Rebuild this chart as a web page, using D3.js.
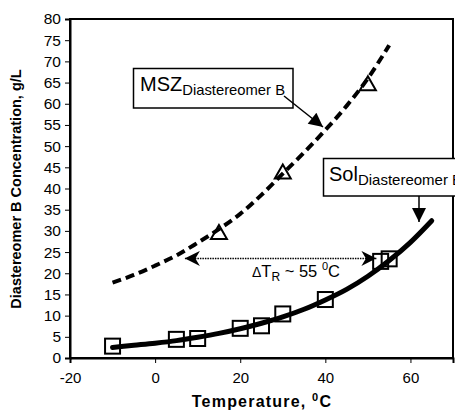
<!DOCTYPE html>
<html><head><meta charset="utf-8">
<script src="https://cdn.jsdelivr.net/npm/d3@7"></script>
<style>
body{margin:0;background:#fff;}
text{font-family:"Liberation Sans",Arial,sans-serif;}
</style></head>
<body>
<svg id="chart" width="455" height="410"></svg>
<script>
// Measured solubility (squares)
const solTemp = [-10, 5, 10, 20, 25, 30, 40, 53, 55];
const solConc = [2.8, 4.4, 4.6, 7.0, 7.6, 10.4, 13.8, 22.8, 23.4];
// Solubility fitted curve
const solCurveTemp = [-10, -5, 0, 5, 10, 15, 20, 25, 30, 35, 40, 45, 50, 55, 60, 65];
const solCurveConc = [2.5, 3.0, 3.5, 4.1, 4.9, 5.8, 6.9, 8.2, 9.7, 11.5, 13.7, 16.2, 19.3, 23.0, 27.3, 32.4];
// Metastable zone limit (triangles)
const mszTemp = [15, 30, 50];
const mszConc = [29.5, 43.8, 64.6];
// MSZ dashed curve
const mszCurveTemp = [-10, -5, 0, 5, 10, 15, 20, 25, 30, 35, 40, 45, 50, 55];
const mszCurveConc = [17.8, 19.6, 21.8, 24.2, 27.2, 30.4, 34.0, 38.5, 43.5, 48.5, 53.8, 59.5, 66.0, 73.8];
// Axis ticks
const xTicks = [-20, 0, 20, 40, 60];
const yTicks = [0, 5, 10, 15, 20, 25, 30, 35, 40, 45, 50, 55, 60, 65, 70, 75, 80];
// Annotation values
const deltaArrowConc = 23.5;
const deltaArrowFrom = 7;
const deltaArrowTo = 52;

const svg = d3.select("#chart");
const x = d3.scaleLinear().domain([-20, 70]).range([70, 453]);
const y = d3.scaleLinear().domain([0, 80]).range([358, 19]);

const defs = svg.append("defs");
defs.append("marker").attr("id","tri").attr("viewBox","0 0 10 10").attr("refX",10).attr("refY",5)
  .attr("markerWidth",18).attr("markerHeight",14).attr("markerUnits","userSpaceOnUse").attr("orient","auto")
  .append("path").attr("d","M0,0L10,5L0,10Z").attr("fill","#000");
defs.append("marker").attr("id","stealth").attr("viewBox","0 0 10 10").attr("refX",10).attr("refY",5)
  .attr("markerWidth",15).attr("markerHeight",15).attr("markerUnits","userSpaceOnUse").attr("orient","auto-start-reverse")
  .append("path").attr("d","M0,0L10,5L0,10L3,5Z").attr("fill","#000");

// Plot frame
svg.append("rect").attr("x",70).attr("y",19).attr("width",383).attr("height",339)
  .attr("fill","none").attr("stroke","#000").attr("stroke-width",2);

// Axes
const xAxis = d3.axisBottom(x).tickValues(xTicks).tickSize(5).tickFormat(d => String(d));
const gx = svg.append("g").attr("transform","translate(0,358)").call(xAxis);
gx.select(".domain").attr("stroke-width",2);
gx.selectAll(".tick line").attr("stroke-width",1);
gx.selectAll("text").attr("font-size",15).attr("dy","1.1em").attr("font-family","Liberation Sans, Arial, sans-serif");

const yAxis = d3.axisLeft(y).tickValues(yTicks).tickSize(5).tickPadding(4).tickFormat(d => String(d));
const gy = svg.append("g").attr("transform","translate(70,0)").call(yAxis);
gy.select(".domain").attr("stroke-width",2);
gy.selectAll(".tick line").attr("stroke-width",1);
gy.selectAll("text").attr("font-size",15.5).attr("font-family","Liberation Sans, Arial, sans-serif");

// Axis titles
svg.append("text").attr("transform","translate(21,189) rotate(-90)").attr("text-anchor","middle")
  .attr("font-size",14.5).attr("font-weight","bold").text("Diastereomer B Concentration, g/L");
const xt = svg.append("text").attr("x",262).attr("y",407).attr("text-anchor","middle")
  .attr("font-size",16).attr("font-weight","bold").attr("letter-spacing",1.2);
xt.append("tspan").text("Temperature, ");
xt.append("tspan").attr("dy",-6).attr("font-size",11).text("0");
xt.append("tspan").attr("dy",6).text("C");

const line = d3.line().x(d=>x(d[0])).y(d=>y(d[1])).curve(d3.curveMonotoneX);

// MSZ dashed curve
svg.append("path").datum(mszCurveTemp.map((t,i)=>[t,mszCurveConc[i]]))
  .attr("d",line).attr("fill","none").attr("stroke","#000").attr("stroke-width",4)
  .attr("stroke-dasharray","9,5");

// Solubility curve
svg.append("path").datum(solCurveTemp.map((t,i)=>[t,solCurveConc[i]]))
  .attr("d",line).attr("fill","none").attr("stroke","#000").attr("stroke-width",5)
  .attr("stroke-linecap","round");

// Squares
svg.selectAll(".sq").data(solTemp.map((t,i)=>[t,solConc[i]])).enter().append("rect")
  .attr("x",d=>x(d[0])-7.5).attr("y",d=>y(d[1])-7.5).attr("width",15).attr("height",15)
  .attr("fill","none").attr("stroke","#000").attr("stroke-width",2);

// Triangles
svg.selectAll(".tr").data(mszTemp.map((t,i)=>[t,mszConc[i]])).enter().append("path")
  .attr("d",d=>{const cx=x(d[0]), cy=y(d[1]); return `M${cx},${cy-8}L${cx+8},${cy+6}L${cx-8},${cy+6}Z`;})
  .attr("fill","none").attr("stroke","#000").attr("stroke-width",2);

// Delta T double arrow
svg.append("line").attr("x1",x(deltaArrowFrom)).attr("x2",x(deltaArrowTo))
  .attr("y1",y(deltaArrowConc)).attr("y2",y(deltaArrowConc))
  .attr("stroke","#000").attr("stroke-width",1.5).attr("stroke-dasharray","1.5,1")
  .attr("marker-start","url(#stealth)").attr("marker-end","url(#stealth)");

const dt = svg.append("text").attr("x",252).attr("y",277).attr("font-size",16.5);
dt.append("tspan").attr("font-size",14).text("\u0394");
dt.append("tspan").text("T");
dt.append("tspan").attr("dy",4).attr("font-size",12).text("R");
dt.append("tspan").attr("dy",-4).text(" ~ 55 ");
dt.append("tspan").attr("dy",-7).attr("font-size",11).text("0");
dt.append("tspan").attr("dy",7).text("C");

// MSZ label box
svg.append("rect").attr("x",133.5).attr("y",68.5).attr("width",159.5).attr("height",39.5)
  .attr("fill","#fff").attr("stroke","#000").attr("stroke-width",1.5);
const mt = svg.append("text").attr("x",140).attr("y",91).attr("font-size",20);
mt.append("tspan").text("MSZ");
mt.append("tspan").attr("dy",4).attr("font-size",14.8).text("Diastereomer B");
svg.append("line").attr("x1",284).attr("y1",96).attr("x2",323).attr("y2",127)
  .attr("stroke","#000").attr("stroke-width",1.5).attr("marker-end","url(#tri)");

// Sol label box
svg.append("rect").attr("x",323.5).attr("y",158.5).attr("width",150).attr("height",37.5)
  .attr("fill","#fff").attr("stroke","#000").attr("stroke-width",1.5);
const st = svg.append("text").attr("x",329).attr("y",181).attr("font-size",20);
st.append("tspan").text("Sol");
st.append("tspan").attr("dy",4).attr("font-size",15).text("Diastereomer B");
svg.append("line").attr("x1",419).attr("y1",196).attr("x2",419).attr("y2",222)
  .attr("stroke","#000").attr("stroke-width",1.5).attr("marker-end","url(#tri)");
</script>
</body></html>
